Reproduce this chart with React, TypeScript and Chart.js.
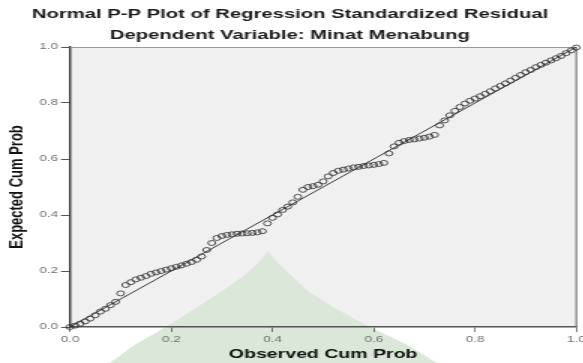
import React, { useEffect, useRef } from 'react';
import { Chart, registerables } from 'chart.js';

Chart.register(...registerables);

const titleLines = [
  'Normal P-P Plot of Regression Standardized Residual',
  'Dependent Variable: Minat Menabung',
];
const xAxisTitle = 'Observed Cum Prob';
const yAxisTitle = 'Expected Cum Prob';
const tickValues = [0, 0.2, 0.4, 0.6, 0.8, 1.0];

const observedCumProb = [
  0.00, 0.01, 0.02, 0.03, 0.04, 0.05, 0.06, 0.07, 0.08, 0.09,
  0.10, 0.11, 0.12, 0.13, 0.14, 0.15, 0.16, 0.17, 0.18, 0.19,
  0.20, 0.21, 0.22, 0.23, 0.24, 0.25, 0.26, 0.27, 0.28, 0.29,
  0.30, 0.31, 0.32, 0.33, 0.34, 0.35, 0.36, 0.37, 0.38, 0.39,
  0.40, 0.41, 0.42, 0.43, 0.44, 0.45, 0.46, 0.47, 0.48, 0.49,
  0.50, 0.51, 0.52, 0.53, 0.54, 0.55, 0.56, 0.57, 0.58, 0.59,
  0.60, 0.61, 0.62, 0.63, 0.64, 0.65, 0.66, 0.67, 0.68, 0.69,
  0.70, 0.71, 0.72, 0.73, 0.74, 0.75, 0.76, 0.77, 0.78, 0.79,
  0.80, 0.81, 0.82, 0.83, 0.84, 0.85, 0.86, 0.87, 0.88, 0.89,
  0.90, 0.91, 0.92, 0.93, 0.94, 0.95, 0.96, 0.97, 0.98, 0.99,
  1.00,
];

const expectedCumProb = [
  0.000, 0.005, 0.012, 0.020, 0.030, 0.042, 0.055, 0.065, 0.078, 0.090,
  0.120, 0.150, 0.160, 0.170, 0.176, 0.182, 0.190, 0.195, 0.200, 0.205,
  0.210, 0.215, 0.220, 0.226, 0.232, 0.240, 0.252, 0.275, 0.300, 0.318,
  0.325, 0.329, 0.331, 0.333, 0.334, 0.335, 0.336, 0.338, 0.342, 0.370,
  0.390, 0.402, 0.418, 0.430, 0.445, 0.465, 0.490, 0.500, 0.503, 0.508,
  0.520, 0.538, 0.550, 0.558, 0.562, 0.566, 0.570, 0.572, 0.575, 0.577,
  0.579, 0.582, 0.586, 0.620, 0.645, 0.658, 0.664, 0.668, 0.670, 0.673,
  0.676, 0.680, 0.686, 0.720, 0.738, 0.756, 0.772, 0.786, 0.798, 0.808,
  0.816, 0.824, 0.833, 0.842, 0.852, 0.861, 0.870, 0.880, 0.890, 0.900,
  0.910, 0.918, 0.928, 0.936, 0.944, 0.952, 0.960, 0.968, 0.978, 0.988,
  0.998,
];

const referenceLineX = [0, 1];
const referenceLineY = [0, 1];

// background watermark outline (data units)
const watermarkX = [0.07, 0.127, 0.196, 0.248, 0.300, 0.340, 0.368, 0.383, 0.391, 0.399, 0.414, 0.440, 0.470, 0.523, 0.588, 0.667, 0.735];
const watermarkY = [-0.14, -0.064, 0.007, 0.067, 0.128, 0.178, 0.222, 0.252, 0.275, 0.252, 0.222, 0.178, 0.128, 0.067, 0.004, -0.064, -0.14];

const STRETCH = 1.5;
const CANVAS_W = 389;
const CANVAS_H = 363;

const backgroundPlugin = {
  id: 'ppBackground',
  beforeDraw(chart: any) {
    const { ctx, chartArea, scales } = chart;
    ctx.save();
    ctx.fillStyle = '#f0f0f0';
    ctx.fillRect(chartArea.left, chartArea.top, chartArea.right - chartArea.left, chartArea.bottom - chartArea.top);
    ctx.beginPath();
    watermarkX.forEach((v, i) => {
      const px = scales.x.getPixelForValue(v);
      const py = scales.y.getPixelForValue(watermarkY[i]);
      if (i === 0) ctx.moveTo(px, py);
      else ctx.lineTo(px, py);
    });
    ctx.closePath();
    ctx.fillStyle = '#dbe7d8';
    ctx.fill();
    ctx.restore();
  },
  beforeDatasetsDraw(chart: any) {
    const { ctx, chartArea } = chart;
    ctx.save();
    ctx.strokeStyle = '#9a9a9a';
    ctx.lineWidth = 1;
    ctx.beginPath();
    ctx.moveTo(chartArea.left, chartArea.top + 0.5);
    ctx.lineTo(chartArea.right, chartArea.top + 0.5);
    ctx.stroke();
    ctx.strokeStyle = '#777';
    ctx.lineWidth = 1.2;
    ctx.beginPath();
    ctx.moveTo(chartArea.right, chartArea.top);
    ctx.lineTo(chartArea.right, chartArea.bottom);
    ctx.stroke();
    ctx.restore();
  },
};

export default function App() {
  const canvasRef = useRef<HTMLCanvasElement | null>(null);

  useEffect(() => {
    document.body.style.margin = '0';
    const canvas = canvasRef.current;
    if (!canvas) return;

    const points = observedCumProb.map((x, i) => ({ x, y: expectedCumProb[i] }));
    const line = referenceLineX.map((x, i) => ({ x, y: referenceLineY[i] }));
    const tickCb = (v: any) => Number(v).toFixed(1);
    const setTicks = (s: any) => {
      s.ticks = tickValues.map((value) => ({ value }));
    };

    const chart = new Chart(canvas, {
      type: 'scatter',
      data: {
        datasets: [
          {
            type: 'line',
            data: line,
            borderColor: '#3a3a3a',
            borderWidth: 1,
            pointRadius: 0,
            fill: false,
            order: 2,
          },
          {
            type: 'scatter',
            data: points,
            pointStyle: 'circle',
            pointRadius: 2.5,
            borderWidth: 0.8,
            borderColor: '#2b2b2b',
            backgroundColor: 'rgba(0,0,0,0)',
            clip: false,
            order: 1,
          } as any,
        ],
      },
      plugins: [backgroundPlugin],
      options: {
        responsive: false,
        animation: false,
        devicePixelRatio: 1,
        layout: { padding: { left: 0, right: 2.33, top: 0, bottom: 0 } },
        plugins: {
          legend: { display: false },
          tooltip: { enabled: false },
          title: {
            display: true,
            text: titleLines,
            color: '#1a1a1a',
            font: { family: 'Liberation Sans', size: 13.5, weight: 'bold', lineHeight: '21px' },
            padding: { top: 3.5, bottom: 1.5 },
          },
        },
        scales: {
          x: {
            type: 'linear',
            min: 0,
            max: 1,
            afterBuildTicks: setTicks,
            afterFit: (s: any) => {
              s.height = 36;
              s.paddingLeft = 0;
              s.paddingRight = 0;
            },
            ticks: {
              callback: tickCb,
              color: '#707070',
              padding: 2,
              maxRotation: 0,
              autoSkip: false,
              font: { family: 'Liberation Sans', size: 9 },
            },
            grid: {
              display: true,
              drawOnChartArea: false,
              drawTicks: true,
              tickLength: 5,
              color: '#555',
              lineWidth: 0.8,
            },
            border: { display: true, color: '#555', width: 1.5 },
            title: {
              display: true,
              text: xAxisTitle,
              color: '#111',
              font: { family: 'Liberation Sans', size: 13, weight: 'bold' },
              padding: { top: 0, bottom: 1.2 },
            },
          },
          y: {
            type: 'linear',
            min: 0,
            max: 1,
            afterBuildTicks: setTicks,
            afterFit: (s: any) => {
              s.width = 46.67;
              s.paddingTop = 0;
              s.paddingBottom = 0;
            },
            ticks: {
              callback: tickCb,
              color: '#707070',
              padding: 2,
              autoSkip: false,
              font: { family: 'Liberation Sans', size: 9 },
            },
            grid: {
              display: true,
              drawOnChartArea: false,
              drawTicks: true,
              tickLength: 6,
              color: '#555',
              lineWidth: 1,
            },
            border: { display: true, color: '#333', width: 1.4 },
            title: {
              display: true,
              text: yAxisTitle,
              color: '#111',
              font: { family: 'Liberation Sans', size: 13, weight: 'bold' },
              padding: { top: 3.8, bottom: 0 },
            },
          },
        },
      } as any,
    });

    return () => chart.destroy();
  }, []);

  return (
    <div style={{ width: 583, height: CANVAS_H, overflow: 'hidden', position: 'relative', background: '#fff' }}>
      <canvas
        ref={canvasRef}
        width={CANVAS_W}
        height={CANVAS_H}
        style={{
          width: CANVAS_W + 'px',
          height: CANVAS_H + 'px',
          display: 'block',
          transform: `scaleX(${STRETCH})`,
          transformOrigin: '0 0',
        }}
      />
    </div>
  );
}
